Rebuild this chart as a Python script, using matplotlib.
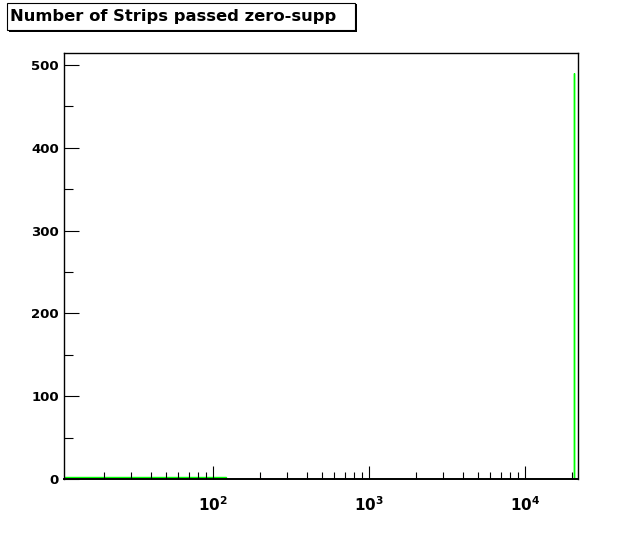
import numpy as np
import matplotlib
matplotlib.use('Agg')
import matplotlib.pyplot as plt
from matplotlib.patches import Rectangle
from matplotlib import ticker

# histogram contents
bin_edges = [11.1, 122.0, 20560.0, 20600.0]
counts = [3.0, 0.0, 490.0]
title = "Number of Strips passed zero-supp"

x_range = (11.1, 21900.0)
y_range = (0.0, 514.5)
y_major = [0, 100, 200, 300, 400, 500]
y_minor = [50, 150, 250, 350, 450]

plt.rcParams['font.family'] = ['DejaVu Sans']
plt.rcParams['font.weight'] = 'bold'
plt.rcParams['mathtext.fontset'] = 'dejavusans'

W, H = 643, 533
fig = plt.figure(figsize=(W / 100, H / 100), dpi=100)
ax = fig.add_axes([64 / W, 1 - 479 / H, (578 - 64) / W, (479 - 53) / H])

# histogram drawn as steps
ax.stairs(counts, bin_edges, baseline=0, color='#00ff00', lw=1.0, zorder=1)

ax.set_xscale('log')
ax.set_xlim(*x_range)
ax.set_ylim(*y_range)

ax.xaxis.set_major_locator(ticker.LogLocator(base=10, numticks=10))
ax.xaxis.set_minor_locator(ticker.LogLocator(base=10, subs=np.arange(2, 10), numticks=20))
ax.xaxis.set_major_formatter(ticker.FuncFormatter(
    lambda v, p: r'$\mathbf{10^{%d}}$' % round(np.log10(v))))
ax.xaxis.set_minor_formatter(ticker.NullFormatter())

ax.set_yticks(y_major)
ax.set_yticks(y_minor, minor=True)
ax.set_yticklabels([str(v) for v in y_major])

# ROOT-like ticks: inside, no ticks on top/right
ax.tick_params(axis='x', which='major', direction='in', length=9.4, width=0.8,
               pad=11.5, labelsize=11, top=False)
ax.tick_params(axis='x', which='minor', direction='in', length=4.7, width=0.8, top=False)
ax.tick_params(axis='y', which='major', direction='in', length=11.0, width=0.8,
               pad=3.6, labelsize=9.5, right=False)
ax.tick_params(axis='y', which='minor', direction='in', length=6.2, width=0.8, right=False)
for lab in ax.get_yticklabels():
    lab.set_fontweight('bold')
for s in ax.spines.values():
    s.set_linewidth(1.0)
    s.set_zorder(3)
ax.spines['bottom'].set_linewidth(1.4)

# title box with shadow
fig.patches.append(Rectangle((9 / W, 1 - 32 / H), 348 / W, 28 / H,
                             transform=fig.transFigure, facecolor='black',
                             edgecolor='black', lw=0))
fig.patches.append(Rectangle((7 / W, 1 - 30 / H), 348 / W, 27 / H,
                             transform=fig.transFigure, facecolor='white',
                             edgecolor='black', lw=0.8))
fig.text(10 / W, 1 - 16.5 / H, title, fontsize=11.8, fontweight='bold',
         ha='left', va='center')

fig.savefig('out.png', dpi=100)
